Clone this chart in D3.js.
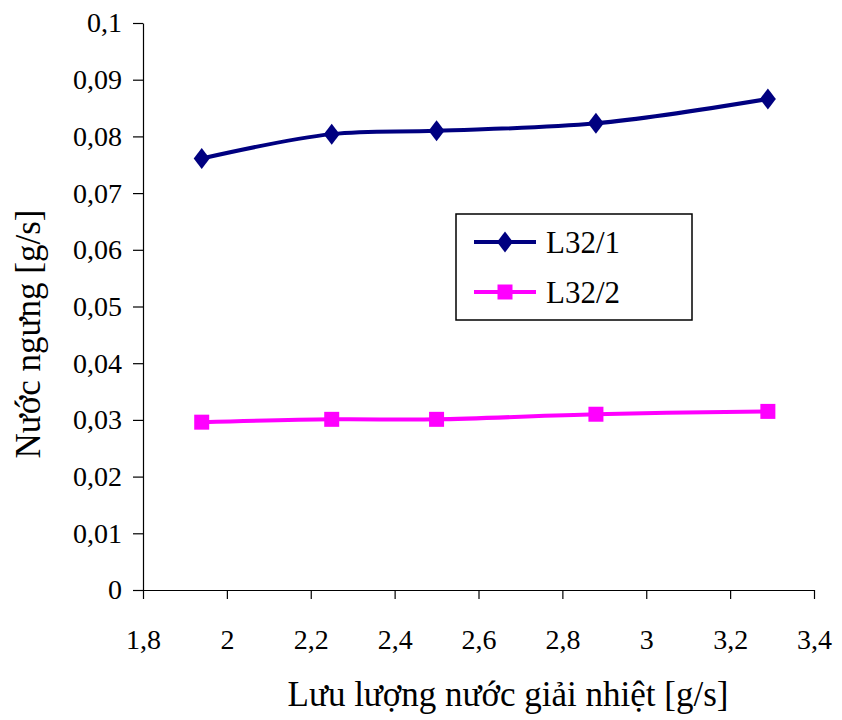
<!DOCTYPE html>
<html>
<head>
<meta charset="utf-8">
<script src="https://cdn.jsdelivr.net/npm/d3@7"></script>
<style>
  html, body { margin: 0; padding: 0; background: #fff; }
  svg { display: block; }
</style>
</head>
<body>
<svg id="chart" width="842" height="720"></svg>
<script>
// Flow rate of cooling water [g/s]
const flowRates = [1.94, 2.25, 2.50, 2.88, 3.29];
// Condensate for each configuration [g/s]
const seriesNames = ["L32/1", "L32/2"];
const condensateL321 = [0.0761, 0.0804, 0.0810, 0.0823, 0.0866];
const condensateL322 = [0.0296, 0.0301, 0.0301, 0.0310, 0.0315];
const xTicks = [1.8, 2.0, 2.2, 2.4, 2.6, 2.8, 3.0, 3.2, 3.4];
const yTicks = [0, 0.01, 0.02, 0.03, 0.04, 0.05, 0.06, 0.07, 0.08, 0.09, 0.1];
const xTitle = "Lưu lượng nước giải nhiệt [g/s]";
const yTitle = "Nước ngưng [g/s]";

const series = [
  { name: seriesNames[0], values: condensateL321, color: "#000080", marker: "diamond" },
  { name: seriesNames[1], values: condensateL322, color: "#FF00FF", marker: "square" }
];

const FONT = '"Liberation Serif"';
const svg = d3.select("#chart");
const plotLeft = 143, plotRight = 814, plotTop = 23, plotBottom = 590;

const x = d3.scaleLinear().domain([1.8, 3.4]).range([plotLeft, plotRight]);
const y = d3.scaleLinear().domain([0, 0.1]).range([plotBottom, plotTop]);
const fmt = v => String(+v.toFixed(2)).replace(".", ",");

// Axes
const xAxis = svg.append("g")
  .attr("transform", `translate(0,${plotBottom})`)
  .call(d3.axisBottom(x).tickValues(xTicks).tickFormat(fmt).tickSize(9).tickSizeOuter(0).tickPadding(30));
const yAxis = svg.append("g")
  .attr("transform", `translate(${plotLeft},0)`)
  .call(d3.axisLeft(y).tickValues(yTicks).tickFormat(fmt).tickSize(10).tickSizeOuter(0).tickPadding(11));
[xAxis, yAxis].forEach(g => {
  g.select(".domain").attr("stroke", "#000").attr("stroke-width", 1.2);
  g.selectAll(".tick line").attr("stroke", "#000").attr("stroke-width", 1.2);
  g.selectAll(".tick text")
    .style("font-family", FONT)
    .style("font-size", "28px")
    .attr("fill", "#000");
});

// Marker shapes
const markerPath = {
  diamond: "M0,-10.5L8,0L0,10.5L-8,0Z",
  square: "M-7.5,-7.5H7.5V7.5H-7.5Z"
};

const line = d3.line()
  .x((d, i) => x(flowRates[i]))
  .y(d => y(d))
  .curve(d3.curveCatmullRom.alpha(0.5));

series.forEach(s => {
  svg.append("path")
    .datum(s.values)
    .attr("d", line)
    .attr("fill", "none")
    .attr("stroke", s.color)
    .attr("stroke-width", 4);
  svg.append("g").selectAll("path")
    .data(s.values)
    .join("path")
    .attr("d", markerPath[s.marker])
    .attr("transform", (d, i) => `translate(${x(flowRates[i])},${y(d)})`)
    .attr("fill", s.color);
});

// Legend
const legend = svg.append("g").attr("transform", "translate(456,214)");
legend.append("rect")
  .attr("width", 236).attr("height", 106)
  .attr("fill", "#fff").attr("stroke", "#000").attr("stroke-width", 1.5);
series.forEach((s, i) => {
  const cy = 28 + i * 50;
  legend.append("line")
    .attr("x1", 18).attr("x2", 80).attr("y1", cy).attr("y2", cy)
    .attr("stroke", s.color).attr("stroke-width", 4);
  legend.append("path")
    .attr("d", markerPath[s.marker])
    .attr("transform", `translate(49,${cy})`)
    .attr("fill", s.color);
  legend.append("text")
    .attr("x", 90).attr("y", cy + 11)
    .style("font-family", FONT)
    .style("font-size", "31px")
    .attr("fill", "#000")
    .text(s.name);
});

// Axis titles
svg.append("text")
  .attr("x", 508).attr("y", 706)
  .attr("text-anchor", "middle")
  .style("font-family", FONT)
  .style("font-size", "35px")
  .attr("fill", "#000")
  .text(xTitle);
svg.append("text")
  .attr("transform", "translate(40,334) rotate(-90)")
  .attr("text-anchor", "middle")
  .style("font-family", FONT)
  .style("font-size", "35px")
  .attr("fill", "#000")
  .text(yTitle);
</script>
</body>
</html>
